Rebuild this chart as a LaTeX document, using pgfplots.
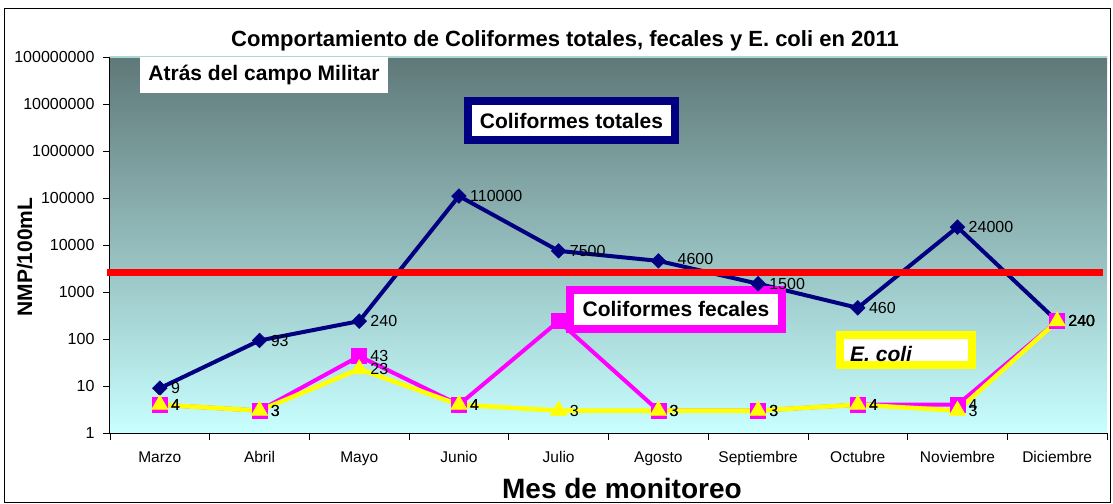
\documentclass[border=0pt]{standalone}
\usepackage{fontspec}
\setmainfont{Liberation Sans}
\usepackage{pgfplots}
\pgfplotsset{compat=1.18}
\definecolor{totales}{RGB}{0,0,128}
\definecolor{fecales}{RGB}{255,0,255}
\definecolor{ecoli}{RGB}{255,255,0}
\definecolor{bgtop}{RGB}{95,120,120}
\definecolor{bgmid}{RGB}{155,195,195}
\definecolor{bgbot}{RGB}{200,255,255}
\definecolor{toprule}{RGB}{170,215,215}

\pgfplotsset{
    lbl/.style={nodes near coords, point meta=explicit symbolic,
        nodes near coords style={anchor=west, inner sep=0pt, xshift=11pt,
            text=black, font=\fontsize{16}{18}\selectfont}},
}

\begin{document}
\begin{tikzpicture}
\begin{axis}[
    scale only axis, width=997pt, height=376pt,
    ymode=log, ymin=1, ymax=1e8,
    xmin=-0.5, xmax=9.5,
    clip=false,
    axis x line*=bottom, axis y line*=left,
    axis line style={black, line width=1pt},
    axis background/.style={top color=bgtop, middle color=bgmid, bottom color=bgbot},
    /pgf/number format/assume math mode=true,
    tick align=outside,
    tick style={black, line width=0.8pt},
    major tick length=7pt, minor tick length=7pt,
    xtick={0,...,9},
    xticklabels={Marzo,Abril,Mayo,Junio,Julio,Agosto,Septiembre,Octubre,Noviembre,Diciembre},
    major x tick style={draw=none},
    minor xtick={-0.5,0.5,...,9.5},
    xticklabel style={font=\fontsize{15.5}{17}\selectfont, yshift=-8pt},
    ytick={1,10,100,1000,10000,100000,1000000,10000000,100000000},
    yticklabels={1,10,100,1000,10000,100000,1000000,10000000,100000000},
    yminorticks=false,
    yticklabel style={font=\fontsize{16}{18}\selectfont, xshift=-5pt},
]
% Coliformes totales
\addplot[totales, line width=4pt, mark=square*, mark size=5.2pt,
    mark options={line width=0.5pt, rotate=45}, lbl] coordinates {
    (0,9) [9] (1,93) [93] (2,240) [240] (3,110000) [110000] (4,7500) [7500]
    (5,4600) [\raisebox{4pt}{\hspace{8pt}4600}] (6,1500) [1500] (7,460) [460]
    (8,24000) [24000] (9,240) [240]
};
% Coliformes fecales
\addplot[fecales, line width=4pt, mark=square*, mark size=7.5pt,
    mark options={line width=0.5pt}, lbl] coordinates {
    (0,4) [4] (1,3) [3] (2,43) [43] (3,4) [4] (4,240) [\phantom{0}]
    (5,3) [3] (6,3) [3] (7,4) [4] (8,4) [4] (9,240) [240]
};
% E. coli
\addplot[ecoli, line width=4.5pt, mark=triangle*, mark size=9.5pt,
    mark options={line width=0.5pt}, lbl] coordinates {
    (0,4) [4] (1,3) [3] (2,23) [23] (3,4) [4] (4,3) [3]
    (5,3) [3] (6,3) [3] (7,4) [4] (8,3) [3] (9,240) [240]
};
% limite
\addplot[red, line width=7pt, forget plot] coordinates {(-0.53,2600) (9.46,2600)};

\draw[toprule, line width=1.5pt] (rel axis cs:0,1) -- (rel axis cs:1,1);

% cajas de texto
\node[fill=white, minimum width=248pt, minimum height=36pt, inner sep=0pt,
    font=\bfseries\fontsize{21}{24}\selectfont]
    at (rel axis cs:0.1545,0.952) {Atrás del campo Militar};
\node[fill=white, draw=totales, line width=8pt, minimum width=207pt, minimum height=39pt,
    inner sep=0pt, font=\bfseries\fontsize{21}{24}\selectfont]
    at (rel axis cs:0.4629,0.8311) {Coliformes totales};
\node[fill=white, draw=fecales, line width=8pt, minimum width=212pt, minimum height=39pt,
    inner sep=0pt, font=\bfseries\fontsize{21}{24}\selectfont]
    at (rel axis cs:0.5677,0.3285) {Coliformes fecales};
\node[fill=white, draw=ecoli, line width=8pt, minimum width=132pt, minimum height=30pt,
    inner sep=0pt] at (rel axis cs:0.7984,0.2207) {};
\node[anchor=base west, inner sep=0pt, font=\bfseries\itshape\fontsize{21}{24}\selectfont]
    at (rel axis cs:0.7422,0.1915) {E. coli};

% titulo y ejes
\node[anchor=base, font=\bfseries\fontsize{22}{25}\selectfont]
    at (rel axis cs:0.4564,1.0266) {Comportamiento de Coliformes totales, fecales y E. coli en 2011};
\node[anchor=base, font=\bfseries\fontsize{28}{31}\selectfont]
    at (rel axis cs:0.5135,-0.1729) {Mes de monitoreo};
\node[anchor=base, rotate=90, font=\bfseries\fontsize{21}{24}\selectfont]
    at (rel axis cs:-0.0782,0.468) {NMP/100mL};

% marco y tamaño
\draw[black, line width=1pt] (rel axis cs:-0.1053,-0.1835) rectangle (rel axis cs:1.003,1.130);
\path (rel axis cs:-0.1103,-0.1862) rectangle (rel axis cs:1.006,1.1516);
\end{axis}
\end{tikzpicture}
\end{document}
